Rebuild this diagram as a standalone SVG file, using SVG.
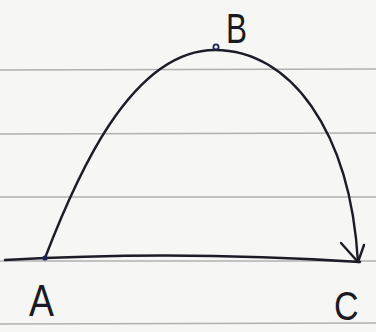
<svg xmlns="http://www.w3.org/2000/svg" width="376" height="332" viewBox="0 0 376 332">
<style>
.paper{stroke:#b0b0b0;stroke-width:1.7;fill:none}
.pen{stroke:#1c1c26;stroke-width:2.4;fill:none;stroke-linecap:round;stroke-linejoin:round}
.lbl{font-family:"Liberation Sans","DejaVu Sans",sans-serif;font-size:46px;fill:#1a1a22}
</style>
<rect width="376" height="332" fill="#f6f6f5"/>
<g id="paper-lines">
<line class="paper" x1="0" y1="70" x2="376" y2="69"/>
<line class="paper" x1="0" y1="134" x2="376" y2="133"/>
<line class="paper" x1="0" y1="197" x2="376" y2="197"/>
<line class="paper" x1="0" y1="261" x2="376" y2="261"/>
<line class="paper" x1="0" y1="324" x2="376" y2="323"/>
</g>
<g id="connectors">
<path class="pen" d="M5,260 Q180,250 360,262"/>
<path class="pen" d="M45,258 C75,180 130,50 215,50 C290,50 350,130 358,262"/>
<path class="pen" d="M341,243 L358,262 L364,245"/>
</g>
<g id="node-A">
<circle cx="45" cy="258" r="2.6" fill="#1e2250"/>
<text class="lbl" x="29" y="316" style="font-size:44px" transform="translate(29 0) scale(0.85 1) translate(-29 0)">A</text>
</g>
<g id="node-B">
<circle cx="216" cy="47" r="2.6" fill="none" stroke="#1e2250" stroke-width="1.8"/>
<text class="lbl" x="226" y="43" style="font-size:42px" transform="translate(226 0) scale(0.75 1) translate(-226 0)">B</text>
</g>
<g id="node-C">
<text class="lbl" x="334" y="320" style="font-size:40px" transform="translate(334 0) scale(0.85 1) translate(-334 0)">C</text>
</g>
</svg>
